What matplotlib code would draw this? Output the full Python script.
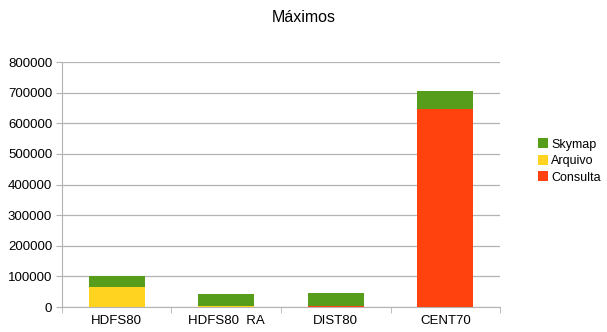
import matplotlib
matplotlib.use("Agg")
import matplotlib.pyplot as plt
import numpy as np

plt.rcParams["font.family"] = ["Liberation Sans", "DejaVu Sans"]

categories = ["HDFS80", "HDFS80  RA", "DIST80", "CENT70"]
consulta = [1000, 1000, 3000, 647000]
arquivo = [64000, 1000, 1000, 0]
skymap = [36000, 40000, 43000, 59000]

COLORS = {"Skymap": "#579d1c", "Arquivo": "#ffd320", "Consulta": "#ff420e"}

fig = plt.figure(figsize=(6.07, 3.32), dpi=100)
ax = fig.add_axes([0.102, 0.075, 0.722, 0.738])

x = np.arange(len(categories))
width = 0.51
c = np.array(consulta)
a = np.array(arquivo)
s = np.array(skymap)
ax.bar(x, c, width, color=COLORS["Consulta"], label="Consulta", zorder=3)
ax.bar(x, a, width, bottom=c, color=COLORS["Arquivo"], label="Arquivo", zorder=3)
ax.bar(x, s, width, bottom=c + a, color=COLORS["Skymap"], label="Skymap", zorder=3)

ax.set_xlim(-0.5, len(categories) - 0.5)
ax.set_ylim(0, 800000)
ax.set_yticks(range(0, 800001, 100000))
ax.yaxis.grid(True, color="#b3b3b3", linewidth=0.9, zorder=0)
ax.set_xticks(x)
ax.set_xticklabels(categories)
ax.set_xticks(np.arange(-0.5, len(categories)), minor=True)
ax.tick_params(axis="x", which="major", length=0, labelsize=9.5, pad=6)
ax.tick_params(axis="x", which="minor", length=4, color="#b3b3b3")
ax.tick_params(axis="y", length=4, color="#b3b3b3", labelsize=9.5, pad=3)
for side in ["top", "right"]:
    ax.spines[side].set_visible(False)
for side in ["left", "bottom"]:
    ax.spines[side].set_color("#b3b3b3")

handles, labels = ax.get_legend_handles_labels()
fig.legend(handles[::-1], labels[::-1], loc="center left", bbox_to_anchor=(0.886, 0.515),
           frameon=False, fontsize=9, handlelength=0.8, handleheight=0.8,
           handletextpad=0.25, labelspacing=0.35, borderpad=0, borderaxespad=0)

fig.suptitle("Máximos", x=0.5, y=0.97, fontsize=11.5)

fig.savefig("out.png", dpi=100)
